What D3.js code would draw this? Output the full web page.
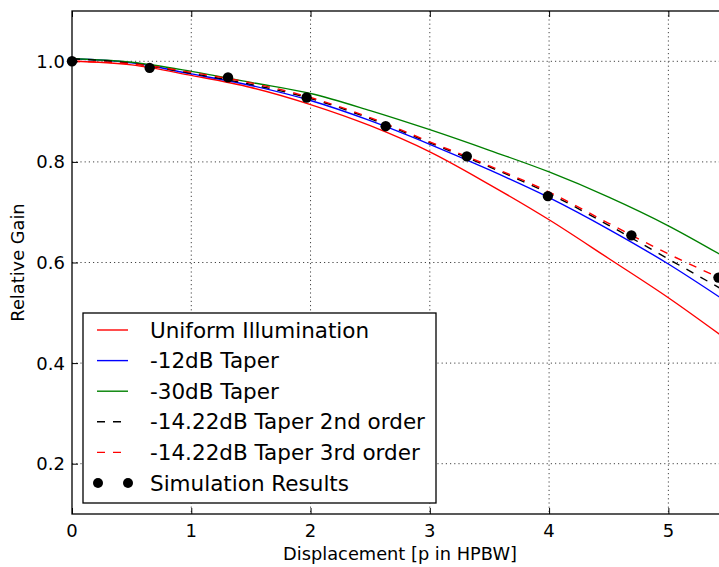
<!DOCTYPE html>
<html lang='en'>
<head>
  <meta charset='UTF-8'>
  <title>Relative Gain vs Displacement</title>
  <style>
  body {
    margin: 0;
    background: #fff;
  }
  text {
    font-family: 'DejaVu Sans', sans-serif;
    fill: #000;
  }
  .tick-label {
    font-size: 18px;
  }
  .label {
    font-size: 17.8px;
  }
  .legend text {
    font-size: 21.5px;
  }
  .grid line {
    stroke: #444;
    stroke-width: 1;
    stroke-dasharray: 1.2,3;
  }
  </style>
  <script src='https://d3js.org/d3.v7.min.js'></script>
</head>
<body>
  <script>

  // displacement samples for the curves
  var xs = [0, 0.5, 1, 1.5, 2, 2.5, 3, 3.5, 4, 4.5, 5, 5.5];

  var uniform   = [1.000, 0.993, 0.972, 0.948, 0.914, 0.872, 0.820, 0.755, 0.685, 0.608, 0.530, 0.445];
  var taper12   = [1.005, 0.997, 0.975, 0.952, 0.922, 0.882, 0.835, 0.784, 0.729, 0.666, 0.597, 0.520];
  var taper30   = [1.005, 0.998, 0.980, 0.958, 0.936, 0.902, 0.864, 0.823, 0.780, 0.730, 0.673, 0.607];
  var order2nd  = [1.005, 0.996, 0.976, 0.954, 0.926, 0.886, 0.838, 0.790, 0.737, 0.674, 0.607, 0.540];
  var order3rd  = [1.000, 0.995, 0.978, 0.957, 0.928, 0.888, 0.840, 0.792, 0.740, 0.678, 0.617, 0.562];

  // simulation points
  var simX = [0, 0.651, 1.308, 1.967, 2.63, 3.31, 3.99, 4.69, 5.42];
  var simY = [1.000, 0.987, 0.968, 0.928, 0.871, 0.811, 0.732, 0.654, 0.570];

  var xTicks = [0, 1, 2, 3, 4, 5];
  var yTicks = [0.2, 0.4, 0.6, 0.8, 1.0];

  var seriesNames = ['Uniform Illumination', '-12dB Taper', '-30dB Taper',
    '-14.22dB Taper 2nd order', '-14.22dB Taper 3rd order'];
  var seriesColors = ['#ff0000', '#0000ff', '#008000', '#000000', '#ff0000'];
  var seriesDash = [null, null, null, '8,8', '8,8'];
  var seriesValues = [uniform, taper12, taper30, order2nd, order3rd];

  var svgWidth = 719;
  var svgHeight = 567;

  var svg = d3.select('body').append('svg')
    .attr('width', svgWidth)
    .attr('height', svgHeight);

  var plotLeft = 72, plotTop = 11, plotRight = 728, plotBottom = 514;

  var x = d3.scaleLinear().domain([0, 5.5]).range([plotLeft, plotRight]);
  var y = d3.scaleLinear().domain([0.1, 1.1]).range([plotBottom, plotTop]);

  svg.append('defs').append('clipPath').attr('id', 'plot')
    .append('rect')
    .attr('x', plotLeft).attr('y', plotTop)
    .attr('width', plotRight - plotLeft).attr('height', plotBottom - plotTop);

  // grid

  var grid = svg.append('g').attr('class', 'grid');
  grid.selectAll('.gx').data(xTicks.slice(1)).enter().append('line')
    .attr('x1', function (d) { return x(d); })
    .attr('x2', function (d) { return x(d); })
    .attr('y1', plotTop).attr('y2', plotBottom);
  grid.selectAll('.gy').data(yTicks).enter().append('line')
    .attr('y1', function (d) { return y(d); })
    .attr('y2', function (d) { return y(d); })
    .attr('x1', plotLeft).attr('x2', plotRight);

  // curves

  var plot = svg.append('g').attr('clip-path', 'url(#plot)');

  var line = d3.line()
    .x(function (d) { return x(d[0]); })
    .y(function (d) { return y(d[1]); })
    .curve(d3.curveMonotoneX);

  seriesValues.forEach(function (vals, i) {
    plot.append('path')
      .datum(xs.map(function (v, j) { return [v, vals[j]]; }))
      .attr('fill', 'none')
      .attr('stroke', seriesColors[i])
      .attr('stroke-width', 1.4)
      .attr('stroke-dasharray', seriesDash[i])
      .attr('d', line);
  });

  svg.selectAll('.dot')
    .data(simX.map(function (v, j) { return [v, simY[j]]; }))
    .enter().append('circle')
    .attr('class', 'dot')
    .attr('r', 5.2)
    .attr('cx', function (d) { return x(d[0]); })
    .attr('cy', function (d) { return y(d[1]); })
    .attr('fill', '#000');

  // axes (ticks pointing inward on all sides)

  svg.append('g')
    .attr('transform', 'translate(0,' + plotBottom + ')')
    .call(d3.axisTop(x).tickValues(xTicks).tickSize(6).tickFormat(''))
    .call(function (g) { g.select('.domain').remove(); });
  svg.append('g')
    .attr('transform', 'translate(0,' + plotTop + ')')
    .call(d3.axisBottom(x).tickValues(xTicks).tickSize(6).tickFormat(''))
    .call(function (g) { g.select('.domain').remove(); });
  svg.append('g')
    .attr('transform', 'translate(' + plotLeft + ',0)')
    .call(d3.axisRight(y).tickValues(yTicks).tickSize(6).tickFormat(''))
    .call(function (g) { g.select('.domain').remove(); });

  svg.selectAll('.tick line').attr('stroke', '#000').attr('stroke-width', 1);

  svg.selectAll('.xl').data(xTicks).enter().append('text')
    .attr('class', 'tick-label')
    .attr('x', function (d) { return x(d); })
    .attr('y', 537)
    .attr('text-anchor', 'middle')
    .text(function (d) { return d; });

  svg.selectAll('.yl').data(yTicks).enter().append('text')
    .attr('class', 'tick-label')
    .attr('x', 65)
    .attr('y', function (d) { return y(d) + 6.5; })
    .attr('text-anchor', 'end')
    .text(function (d) { return d3.format('.1f')(d); });

  // frame

  svg.append('rect')
    .attr('x', plotLeft).attr('y', plotTop)
    .attr('width', plotRight - plotLeft).attr('height', plotBottom - plotTop)
    .attr('fill', 'none')
    .attr('stroke', '#000')
    .attr('stroke-width', 1.3);

  // axis labels

  svg.append('text')
    .attr('class', 'label')
    .attr('text-anchor', 'middle')
    .attr('x', (plotLeft + plotRight) / 2)
    .attr('y', 560)
    .text('Displacement [p in HPBW]');

  svg.append('text')
    .attr('class', 'label')
    .attr('text-anchor', 'middle')
    .attr('transform', 'translate(24,' + ((plotTop + plotBottom) / 2) + ') rotate(-90)')
    .text('Relative Gain');

  // legend

  var legend = svg.append('g').attr('class', 'legend');
  legend.append('rect')
    .attr('x', 83).attr('y', 313)
    .attr('width', 353).attr('height', 190)
    .attr('fill', '#fff')
    .attr('stroke', '#000')
    .attr('stroke-width', 1.3);

  var rowY = function (i) { return 330 + i * 30.6; };

  seriesNames.forEach(function (name, i) {
    legend.append('line')
      .attr('x1', 97).attr('x2', 128)
      .attr('y1', rowY(i)).attr('y2', rowY(i))
      .attr('stroke', seriesColors[i])
      .attr('stroke-width', 1.4)
      .attr('stroke-dasharray', seriesDash[i]);
    legend.append('text')
      .attr('x', 150)
      .attr('y', rowY(i) + 7.5)
      .text(name);
  });

  [98, 128].forEach(function (cx) {
    legend.append('circle')
      .attr('cx', cx).attr('cy', rowY(5))
      .attr('r', 5).attr('fill', '#000');
  });
  legend.append('text')
    .attr('x', 150)
    .attr('y', rowY(5) + 7.5)
    .text('Simulation Results');

  </script>
</body>
</html>
